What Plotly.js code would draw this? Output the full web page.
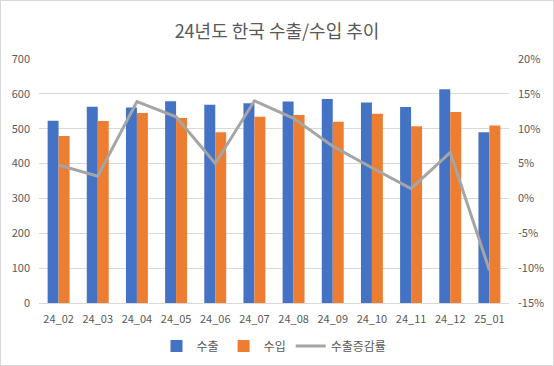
<!DOCTYPE html>
<html><head><meta charset="utf-8">
<script src="https://cdn.plot.ly/plotly-3.0.1.min.js"></script>
<style>html,body{margin:0;padding:0;background:#fff}#c{width:552px;height:364px;border:1px solid #d9d9d9}</style>
</head><body><div id="c"></div>
<script>
const categories = ['24_02','24_03','24_04','24_05','24_06','24_07','24_08','24_09','24_10','24_11','24_12','25_01'];
const exports_ = [523, 563, 561, 579, 569, 573, 578, 585, 575, 562, 613, 490];
const imports_ = [479, 522, 545, 531, 490, 534, 539, 520, 543, 507, 548, 509];
const exportGrowth = [0.048, 0.032, 0.139, 0.117, 0.050, 0.140, 0.115, 0.075, 0.044, 0.014, 0.066, -0.103];
const pctTickVals = [-0.15, -0.10, -0.05, 0, 0.05, 0.10, 0.15, 0.20];
const pctTickText = ['-15%', '-10%', '-5%', '0%', '5%', '10%', '15%', '20%'];

const font = {family: '"Noto Sans CJK KR", "Noto Sans", sans-serif', color: '#595959', size: 11};
const traces = [
  {type:'bar', name:'수출', x:categories, y:exports_, marker:{color:'#4472c4'}},
  {type:'bar', name:'수입', x:categories, y:imports_, marker:{color:'#ed7d31'}},
  {type:'scatter', mode:'lines', name:'수출증감률', x:categories, y:exportGrowth, yaxis:'y2',
   line:{color:'#a5a5a5', width:3}}
];
const layout = {
  width:552, height:364,
  margin:{l:38, r:44, t:58, b:62},
  paper_bgcolor:'#fff', plot_bgcolor:'#fff',
  font: font,
  title:{text:'24년도 한국 수출/수입 추이', x:0.5, xanchor:'center', yref:'container', y:0.915, yanchor:'middle',
         font:{family:font.family, size:18, color:'#595959'}},
  barmode:'group', bargap:0.44, bargroupgap:0,
  showlegend:true,
  legend:{orientation:'h', x:0.5, xanchor:'center', yref:'container', y:0.052, yanchor:'middle',
          font:{size:12, color:'#595959'}},
  xaxis:{type:'category', showgrid:false, showline:true, linecolor:'#d9d9d9', ticks:'', tickfont:{size:11},
         ticklabelstandoff:6, automargin:false},
  yaxis:{range:[0,700], dtick:100, gridcolor:'#d9d9d9', zeroline:false, ticks:'', tickfont:{size:11},
         ticklabelstandoff:8, automargin:false},
  yaxis2:{overlaying:'y', side:'right', range:[-0.15,0.20], tickmode:'array', tickvals:pctTickVals, ticktext:pctTickText,
          showgrid:false, zeroline:false, ticks:'', tickfont:{size:11}, ticklabelstandoff:8, automargin:false}
};
Plotly.newPlot('c', traces, layout, {displayModeBar:false, staticPlot:true});
</script></body></html>
